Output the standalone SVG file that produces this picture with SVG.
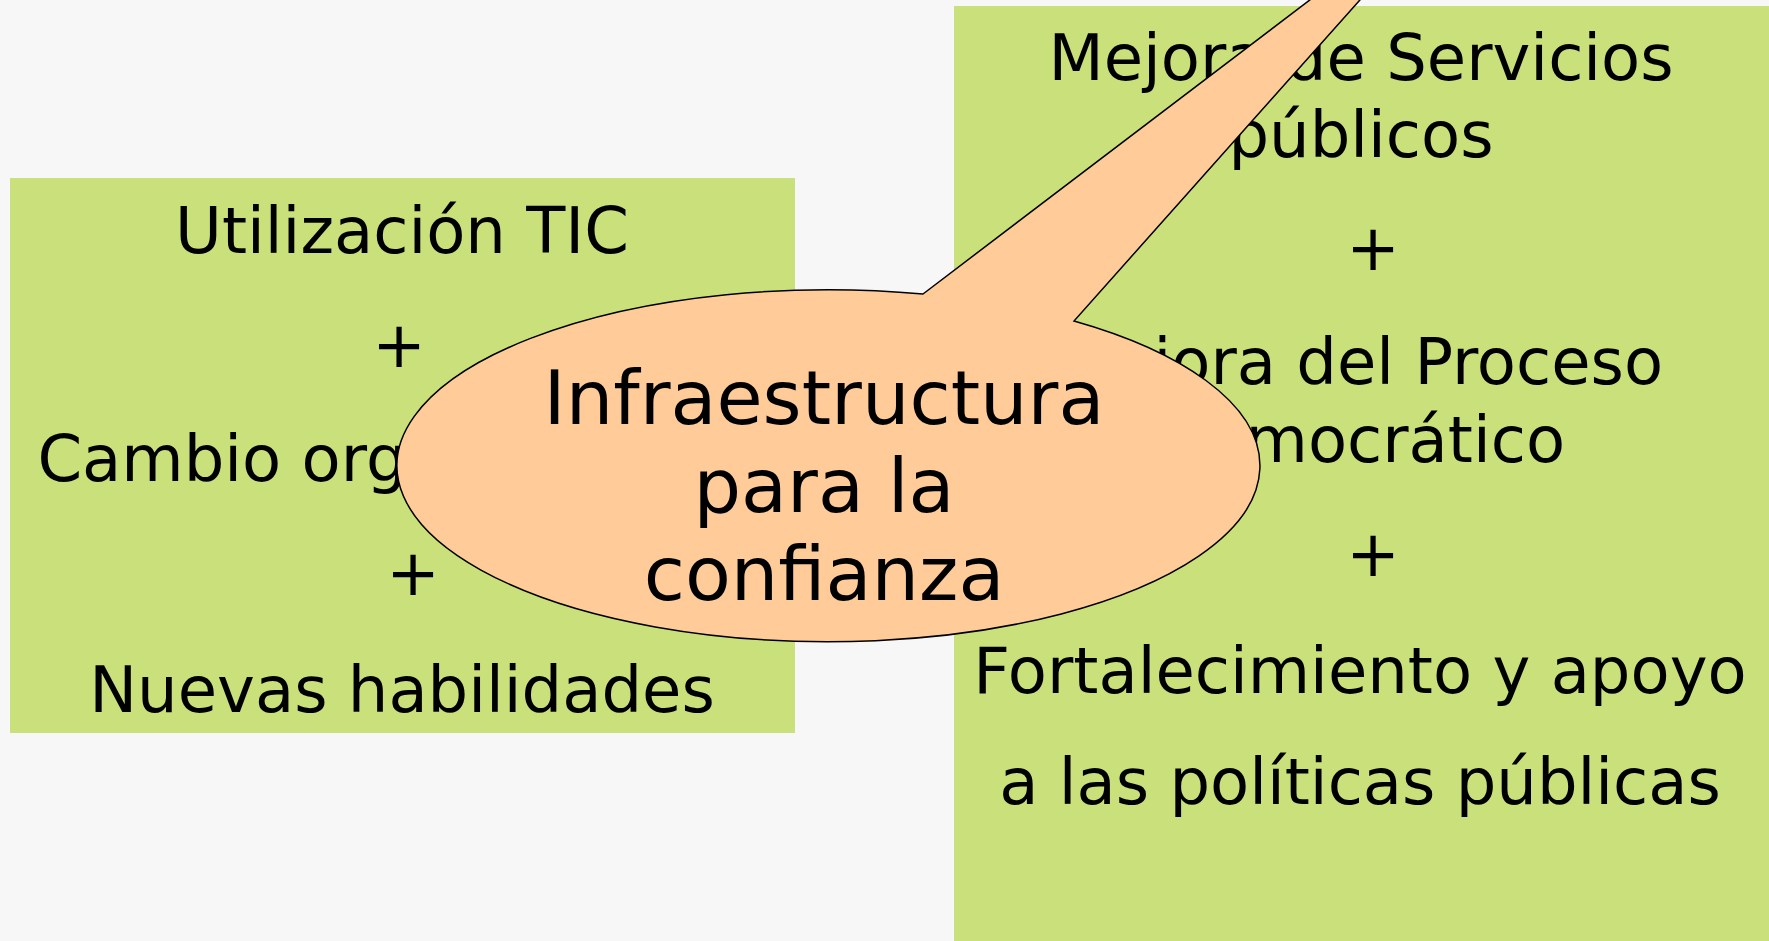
<svg xmlns="http://www.w3.org/2000/svg" width="1769" height="941" viewBox="0 0 1769 941">
<style>
.box{fill:#c9e07b;}
.t{font-family:"DejaVu Sans","Verdana",sans-serif;font-size:64px;fill:#000;text-anchor:middle;}
.c{font-family:"DejaVu Sans","Verdana",sans-serif;font-size:75px;fill:#000;text-anchor:middle;}
.callout{fill:#ffcc99;stroke:#000;stroke-width:1.5;}
</style>
<rect x="0" y="0" width="1769" height="941" fill="#f7f7f7"/>
<g id="left-box">
<rect class="box" x="10" y="178" width="785" height="555"/>
<text class="t" x="402" y="253">Utilización TIC</text>
<text class="t" x="399" y="367">+</text>
<text class="t" x="402" y="481">Cambio organizacional</text>
<text class="t" x="413" y="595">+</text>
<text class="t" x="402" y="712">Nuevas habilidades</text>
</g>
<g id="right-box">
<rect class="box" x="954" y="6" width="815" height="935"/>
<text class="t" x="1361" y="80">Mejora de Servicios</text>
<text class="t" x="1361" y="157">públicos</text>
<text class="t" x="1373" y="270">+</text>
<text class="t" x="1361" y="384">Mejora del Proceso</text>
<text class="t" x="1361" y="462">Democrático</text>
<text class="t" x="1373" y="576">+</text>
<text class="t" x="1360" y="693">Fortalecimiento y apoyo</text>
<text class="t" x="1360" y="804">a las políticas públicas</text>
</g>
<g id="connectors"></g>
<g id="callout">
<path class="callout" d="M 923 294 L 1465 -118 L 1074 321 A 431.5 176 0 1 1 923 294 Z"/>
<text class="c" x="824" y="424">Infraestructura</text>
<text class="c" x="824" y="512">para la</text>
<text class="c" x="824" y="600">confianza</text>
</g>
</svg>
